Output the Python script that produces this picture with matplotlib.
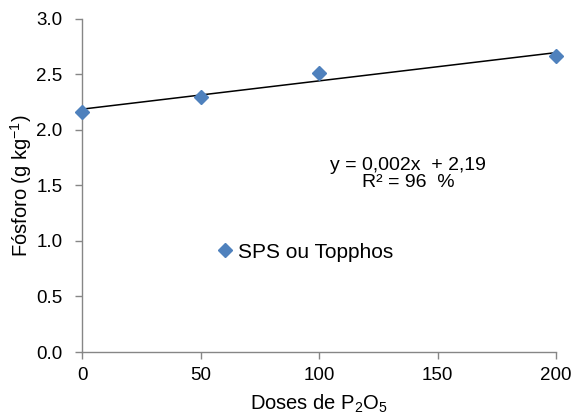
import numpy as np
import matplotlib
matplotlib.use("Agg")
import matplotlib.pyplot as plt

# ── data ───────────────────────────────────────────────────────────────────────
doses = [0, 50, 100, 200]
fosforo = [2.165, 2.30, 2.51, 2.667]
x_ticks = [0, 50, 100, 150, 200]
y_ticks = [0.0, 0.5, 1.0, 1.5, 2.0, 2.5, 3.0]
series_label = "SPS ou Topphos"
eq_text = "y = 0,002x  + 2,19\nR² = 96  %"

BLUE = "#4F81BD"
AXIS_GRAY = "#868686"
FS_TICK = 13.5
FS_LABEL = 14.5
FS_EQ = 14
FS_LEG = 15

plt.rcParams.update({
    "font.family": ["Liberation Sans", "DejaVu Sans"],
    "font.size": FS_TICK,
    "mathtext.default": "regular",
})

fig = plt.figure(figsize=(5.76, 4.19), dpi=100)
ax = fig.add_axes([0.1424, 0.1599, 0.8229, 0.7948])

# trendline (least squares over the points)
slope, intercept = np.polyfit(doses, fosforo, 1)
xs = np.array([min(doses), max(doses)])
ax.plot(xs, slope * xs + intercept, color="black", lw=1.1, zorder=2)

ax.plot(doses, fosforo, ls="none", marker="D", ms=7, color=BLUE,
        label=series_label, zorder=3, clip_on=False)

ax.set_xlim(0, 200)
ax.set_ylim(0, 3.0)
ax.set_xticks(x_ticks)
ax.set_yticks(y_ticks)
ax.set_yticklabels([f"{v:.1f}" for v in y_ticks])
ax.tick_params(direction="out", length=5, width=1, color=AXIS_GRAY,
               labelsize=FS_TICK)
ax.tick_params(axis="x", pad=6)
ax.tick_params(axis="y", pad=9)
ax.spines[["top", "right"]].set_visible(False)
for s in ("left", "bottom"):
    ax.spines[s].set_color(AXIS_GRAY)
    ax.spines[s].set_linewidth(1)

ax.set_xlabel("Doses de P$_2$O$_5$", fontsize=FS_LABEL, labelpad=6)
ax.set_ylabel("Fósforo (g kg$^{-1}$)", fontsize=FS_LABEL, labelpad=2)

ax.text(0.688, 0.535, eq_text, transform=ax.transAxes, ha="center",
        va="center", fontsize=FS_EQ, linespacing=0.95)

ax.legend(loc="center left", bbox_to_anchor=(0.265, 0.30), frameon=False,
          handlelength=0.7, handletextpad=0.25, borderpad=0, fontsize=FS_LEG,
          numpoints=1)

fig.savefig("out.png", dpi=100)
